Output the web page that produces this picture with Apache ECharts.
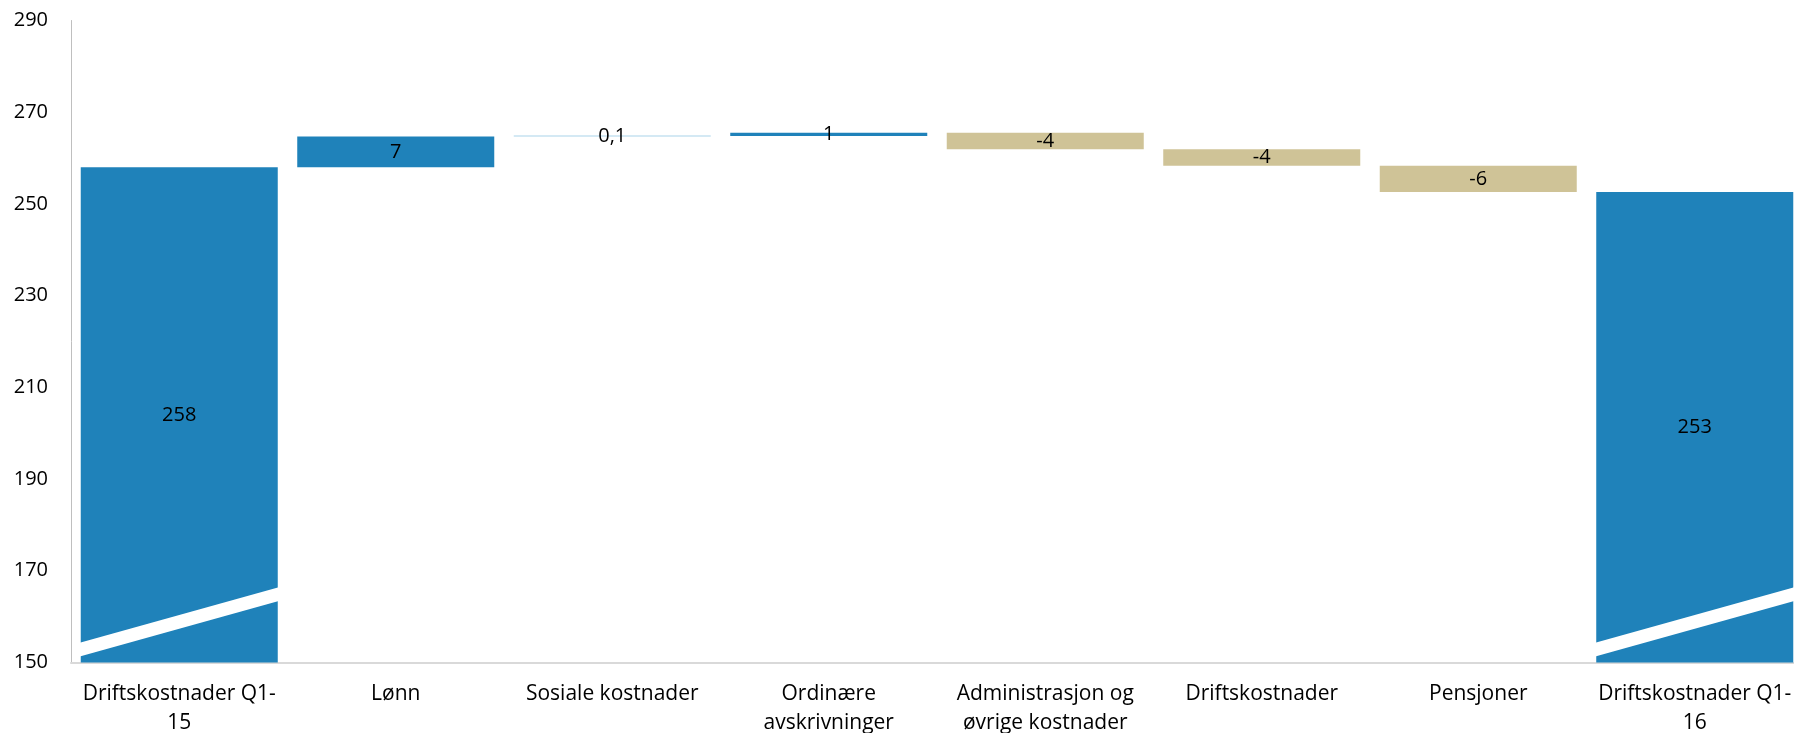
<!DOCTYPE html>
<html>
<head>
<meta charset="utf-8">
<script src="https://cdn.jsdelivr.net/npm/echarts@6/dist/echarts.min.js"></script>
<style>
  html, body { margin: 0; padding: 0; background: #fff; overflow: hidden; }
  #chart { width: 1803px; height: 733px; }
</style>
</head>
<body>
<div id="chart"></div>
<script>
// ---- data ----
const categories = [
  'Driftskostnader Q1-\n15',
  'Lønn',
  'Sosiale kostnader',
  'Ordinære\navskrivninger',
  'Administrasjon og\nøvrige kostnader',
  'Driftskostnader',
  'Pensjoner',
  'Driftskostnader Q1-\n16'
];
const kinds = ['total', 'delta', 'delta', 'delta', 'delta', 'delta', 'delta', 'total'];
const values = [258.0, 6.7, 0.1, 0.7, -3.6, -3.6, -5.7, 252.6];
const valueLabels = ['258', '7', '0,1', '1', '-4', '-4', '-6', '253'];
const yTicks = { min: 150, max: 290, interval: 20 };
// axis-break band (value units) drawn across the two total bars
const breakBand = { leftLow: 151.3, leftHigh: 154.3, rightLow: 163.4, rightHigh: 166.4 };

// ---- derived waterfall pieces ----
const lows = [], spans = [];
let running = 0;
values.forEach((v, i) => {
  if (kinds[i] === 'total') {
    lows.push(yTicks.min);
    spans.push(v - yTicks.min);
    running = v;
  } else {
    const a = running, b = running + v;
    lows.push(Math.min(a, b));
    spans.push(Math.abs(v));
    running = b;
  }
});
const breakIdx = kinds.map((k, i) => k === 'total' ? i : -1).filter(i => i >= 0);

const BLUE = '#1F82BA', TAN = '#CFC397', LIGHT = '#A9D4EA';
const BAR_RATIO = 0.91;
const FONT = 'Open Sans';

const chart = echarts.init(document.getElementById('chart'));
chart.setOption({
  animation: false,
  grid: { left: 71, right: 0, top: 20.5, bottom: 70.5, outerBoundsMode: 'none', containLabel: false },
  xAxis: {
    type: 'category',
    data: categories,
    axisTick: { show: false },
    axisLine: { lineStyle: { color: '#D9D9D9', width: 2 } },
    axisLabel: { interval: 0, color: '#000', fontFamily: FONT, fontSize: 21, lineHeight: 29, margin: 17 }
  },
  yAxis: {
    type: 'value',
    min: yTicks.min, max: yTicks.max, interval: yTicks.interval,
    splitLine: { show: false },
    axisTick: { show: false },
    axisLine: { show: true, lineStyle: { color: '#BFBFBF', width: 1 } },
    axisLabel: { color: '#000', fontFamily: FONT, fontSize: 20, margin: 23 }
  },
  series: [
    {
      type: 'bar', stack: 'wf', barWidth: (BAR_RATIO * 100) + '%',
      itemStyle: { color: 'transparent' },
      emphasis: { disabled: true },
      data: lows
    },
    {
      type: 'bar', stack: 'wf', barWidth: (BAR_RATIO * 100) + '%',
      barMinHeight: 1,
      data: spans,
      itemStyle: {
        color: p => {
          const i = p.dataIndex;
          if (kinds[i] === 'total') return BLUE;
          if (values[i] < 0) return TAN;
          if (Math.abs(values[i]) < 0.5) return LIGHT;
          return BLUE;
        }
      },
      label: {
        show: true, position: 'inside', color: '#000',
        fontFamily: FONT, fontSize: 20,
        formatter: p => valueLabels[p.dataIndex]
      }
    },
    {
      type: 'custom',
      silent: true,
      z: 10,
      data: breakIdx.map(i => [i]),
      renderItem: (params, api) => {
        const i = api.value(0);
        const w = api.size([1, 0])[0] * BAR_RATIO;
        const cx = api.coord([i, yTicks.min])[0];
        const x0 = cx - w / 2 - 1, x1 = cx + w / 2 + 1;
        const y = v => api.coord([i, v])[1];
        return {
          type: 'polygon',
          shape: { points: [
            [x0, y(breakBand.leftLow)], [x1, y(breakBand.rightLow)],
            [x1, y(breakBand.rightHigh)], [x0, y(breakBand.leftHigh)]
          ] },
          style: { fill: '#fff' }
        };
      }
    }
  ]
});
</script>
</body>
</html>
